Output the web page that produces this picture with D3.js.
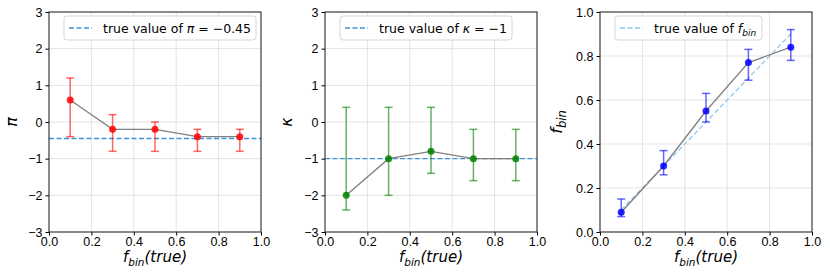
<!DOCTYPE html>
<html>
<head>
<meta charset="utf-8">
<script src="https://cdn.jsdelivr.net/npm/d3@7"></script>
<style>
  body { margin: 0; background: #fff; }
  svg { font-family: "DejaVu Sans", sans-serif; }
  .grid line { stroke: #dcdcdc; stroke-width: 0.8; }
  .tick text { font-size: 12.5px; fill: #000; }
</style>
</head>
<body>
<svg id="chart" width="830" height="277"></svg>
<script>
// data
var fTrue = [0.1, 0.3, 0.5, 0.7, 0.9];

var piVals = [0.6, -0.2, -0.2, -0.4, -0.4];
var piLow  = [-0.4, -0.8, -0.8, -0.8, -0.8];
var piHigh = [1.2, 0.2, 0.0, -0.2, -0.2];
var piTrue = -0.45;

var kapVals = [-2, -1, -0.8, -1, -1];
var kapLow  = [-2.4, -2, -1.4, -1.6, -1.6];
var kapHigh = [0.4, 0.4, 0.4, -0.2, -0.2];
var kapTrue = -1;

var fbVals = [0.09, 0.30, 0.55, 0.77, 0.84];
var fbLow  = [0.07, 0.26, 0.50, 0.69, 0.78];
var fbHigh = [0.15, 0.37, 0.63, 0.83, 0.92];
var fbTrueLine = [[0.1, 0.1], [0.9, 0.9]];

var xTicks = [0, 0.2, 0.4, 0.6, 0.8, 1.0];
var yTicksA = [-3, -2, -1, 0, 1, 2, 3];
var yTicksB = [0, 0.2, 0.4, 0.6, 0.8, 1.0];

var svg = d3.select("#chart");
var top0 = 12, bottom0 = 232;

var panels = [
  {left: 49, right: 261, vals: piVals, lo: piLow, hi: piHigh, color: "#ff0000",
   yDom: [-3, 3], yTicks: yTicksA, yFmt: d => d < 0 ? "\u2212" + Math.abs(d) : "" + d,
   hline: piTrue, lineColor: "#3d95d8", legendW: 192, legendText: "pi", ylab: "pi", ylabX: 17},
  {left: 325, right: 537, vals: kapVals, lo: kapLow, hi: kapHigh, color: "#008000",
   yDom: [-3, 3], yTicks: yTicksA, yFmt: d => d < 0 ? "\u2212" + Math.abs(d) : "" + d,
   hline: kapTrue, lineColor: "#3d95d8", legendW: 172, legendText: "kappa", ylab: "kappa", ylabX: 292},
  {left: 600, right: 812, vals: fbVals, lo: fbLow, hi: fbHigh, color: "#0000ff",
   yDom: [0, 1], yTicks: yTicksB, yFmt: d3.format(".1f"),
   diag: fbTrueLine, lineColor: "#94c6ea", legendW: 147, legendText: "fbin", ylab: "fbin", ylabX: 562}
];

panels.forEach(function(p) {
  var x = d3.scaleLinear().domain([0, 1]).range([p.left, p.right]);
  var y = d3.scaleLinear().domain(p.yDom).range([bottom0, top0]);
  var g = svg.append("g");

  // grid
  var grid = g.append("g").attr("class", "grid");
  grid.selectAll(".gx").data(xTicks).enter().append("line")
    .attr("x1", d => x(d)).attr("x2", d => x(d))
    .attr("y1", top0).attr("y2", bottom0);
  grid.selectAll(".gy").data(p.yTicks).enter().append("line")
    .attr("y1", d => y(d)).attr("y2", d => y(d))
    .attr("x1", p.left).attr("x2", p.right);

  // true value
  if (p.hline !== undefined) {
    g.append("line")
      .attr("x1", p.left).attr("x2", p.right)
      .attr("y1", y(p.hline)).attr("y2", y(p.hline))
      .attr("stroke", p.lineColor).attr("stroke-width", 1.3)
      .attr("stroke-dasharray", "5,2.5");
  }
  if (p.diag) {
    g.append("path")
      .attr("d", d3.line().x(d => x(d[0])).y(d => y(d[1]))(p.diag))
      .attr("fill", "none")
      .attr("stroke", p.lineColor).attr("stroke-width", 1.3)
      .attr("stroke-dasharray", "5,2.5");
  }

  var pts = fTrue.map((f, i) => ({f: f, v: p.vals[i], lo: p.lo[i], hi: p.hi[i]}));

  // connecting line
  g.append("path")
    .attr("d", d3.line().x(d => x(d.f)).y(d => y(d.v))(pts))
    .attr("fill", "none").attr("stroke", "#808080").attr("stroke-width", 1.3);

  // error bars
  var eb = g.append("g").attr("stroke", p.color).attr("stroke-opacity", 0.6).attr("stroke-width", 1.5);
  eb.selectAll(".v").data(pts).enter().append("line")
    .attr("x1", d => x(d.f)).attr("x2", d => x(d.f))
    .attr("y1", d => y(d.lo)).attr("y2", d => y(d.hi));
  eb.selectAll(".c1").data(pts).enter().append("line")
    .attr("x1", d => x(d.f) - 4).attr("x2", d => x(d.f) + 4)
    .attr("y1", d => y(d.lo)).attr("y2", d => y(d.lo));
  eb.selectAll(".c2").data(pts).enter().append("line")
    .attr("x1", d => x(d.f) - 4).attr("x2", d => x(d.f) + 4)
    .attr("y1", d => y(d.hi)).attr("y2", d => y(d.hi));

  g.selectAll(".pt").data(pts).enter().append("circle")
    .attr("cx", d => x(d.f)).attr("cy", d => y(d.v)).attr("r", 3.5)
    .attr("fill", p.color).attr("fill-opacity", 0.85);

  // axes
  g.append("g").attr("transform", "translate(0," + bottom0 + ")")
    .call(d3.axisBottom(x).tickValues(xTicks).tickFormat(d3.format(".1f")).tickSize(3.5).tickPadding(1.5))
    .call(a => a.select(".domain").remove());
  g.append("g").attr("transform", "translate(" + p.left + ",0)")
    .call(d3.axisLeft(y).tickValues(p.yTicks).tickFormat(p.yFmt).tickSize(3.5).tickPadding(3))
    .call(a => a.select(".domain").remove());

  g.append("rect")
    .attr("x", p.left).attr("y", top0)
    .attr("width", p.right - p.left).attr("height", bottom0 - top0)
    .attr("fill", "none").attr("stroke", "#222").attr("stroke-width", 1);

  // legend
  var lg = g.append("g").attr("transform", "translate(" + (p.left + 15) + "," + (top0 + 4) + ")");
  lg.append("rect").attr("width", p.legendW).attr("height", 24).attr("rx", 3)
    .attr("fill", "#fff").attr("fill-opacity", 0.85).attr("stroke", "#d6d6d6");
  lg.append("line").attr("x1", 5).attr("x2", 28).attr("y1", 12).attr("y2", 12)
    .attr("stroke", p.lineColor).attr("stroke-width", 1.3).attr("stroke-dasharray", "5,2.5");
  var lt = lg.append("text").attr("x", 39).attr("y", 16.5).attr("font-size", "12.5px");
  lt.append("tspan").text("true value of ");
  if (p.legendText === "pi") {
    lt.append("tspan").attr("font-style", "italic").text("\u03c0");
    lt.append("tspan").text(" = \u22120.45");
  } else if (p.legendText === "kappa") {
    lt.append("tspan").attr("font-style", "italic").text("\u03ba");
    lt.append("tspan").text(" = \u22121");
  } else {
    lt.append("tspan").attr("font-style", "italic").text("f");
    lt.append("tspan").attr("font-style", "italic").attr("font-size", "9px").attr("dy", 3).text("bin");
  }

  // x label
  var xl = g.append("text").attr("x", (p.left + p.right) / 2).attr("y", 262)
    .attr("text-anchor", "middle").attr("font-size", "15px").attr("font-style", "italic");
  xl.append("tspan").text("f");
  xl.append("tspan").attr("font-size", "10.5px").attr("dy", 3.5).text("bin");
  xl.append("tspan").attr("dy", -3.5).text("(true)");

  // y label
  var yl = g.append("text").attr("transform", "translate(" + p.ylabX + "," + ((top0 + bottom0) / 2) + ") rotate(-90)")
    .attr("text-anchor", "middle").attr("font-size", "16px").attr("font-style", "italic");
  if (p.ylab === "pi") yl.text("\u03c0");
  else if (p.ylab === "kappa") yl.text("\u03ba");
  else {
    yl.append("tspan").text("f");
    yl.append("tspan").attr("font-size", "11.5px").attr("dy", 4).text("bin");
  }
});
</script>
</body>
</html>
